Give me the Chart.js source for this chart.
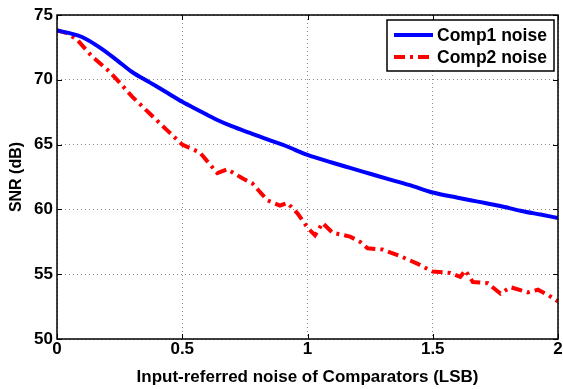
<!DOCTYPE html>
<html>
<head>
<meta charset="utf-8">
<script src="https://cdn.jsdelivr.net/npm/chart.js@4/dist/chart.umd.min.js"></script>
<style>
  html, body { margin: 0; padding: 0; background: #fff; }
  #wrap { width: 563px; height: 389px; position: relative; }
</style>
</head>
<body>
<div id="wrap"><canvas id="snrChart"></canvas></div>
<script>
// ---- DATA ----
const comp1X = [0, 0.05, 0.1, 0.17, 0.24, 0.3, 0.37, 0.44, 0.5, 0.57, 0.64, 0.7, 0.77, 0.84, 0.9, 0.95, 1.0, 1.1, 1.17, 1.25, 1.33, 1.42, 1.5, 1.6, 1.68, 1.77, 1.85, 1.93, 2.0];
const comp1Y = [73.8, 73.6, 73.3, 72.5, 71.5, 70.6, 69.8, 69.0, 68.3, 67.6, 66.9, 66.4, 65.9, 65.4, 65.0, 64.6, 64.2, 63.6, 63.2, 62.75, 62.3, 61.8, 61.3, 60.9, 60.6, 60.26, 59.9, 59.6, 59.34];

const comp2X = [0, 0.04, 0.08, 0.14, 0.2, 0.24, 0.3, 0.37, 0.44, 0.5, 0.57, 0.64, 0.68, 0.74, 0.78, 0.84, 0.89, 0.92, 0.96, 1.0, 1.03, 1.06, 1.1, 1.17, 1.21, 1.24, 1.3, 1.37, 1.44, 1.5, 1.57, 1.61, 1.63, 1.66, 1.72, 1.77, 1.81, 1.88, 1.92, 1.96, 2.0];
const comp2Y = [73.8, 73.6, 73.1, 71.8, 70.8, 70.0, 68.7, 67.4, 66.1, 65.0, 64.4, 62.8, 63.1, 62.4, 62.0, 60.7, 60.3, 60.5, 59.7, 58.6, 58.0, 58.95, 58.2, 57.9, 57.5, 57.0, 56.9, 56.4, 55.8, 55.2, 55.1, 54.8, 55.3, 54.4, 54.3, 53.5, 54.0, 53.6, 53.8, 53.4, 52.9];

const xTicks = [0, 0.5, 1, 1.5, 2];
const yTicks = [50, 55, 60, 65, 70, 75];
const seriesNames = ['Comp1 noise', 'Comp2 noise'];

const FONT = '"Liberation Sans", Arial, sans-serif';

function pts(xs, ys){
  return xs.map((x, i) => ({ x: x, y: ys[i] }));
}

// frame, inward ticks and legend drawn on top of the plot
const framePlugin = {
  id: 'frame',
  afterDatasetsDraw(chart){
    const { ctx, chartArea: a, scales } = chart;
    ctx.save();
    ctx.strokeStyle = '#000';
    ctx.lineWidth = 1.5;
    ctx.strokeRect(a.left, a.top, a.right - a.left, a.bottom - a.top);

    ctx.lineWidth = 1;
    ctx.beginPath();
    xTicks.forEach(v => {
      const px = Math.round(scales.x.getPixelForValue(v)) + 0.5;
      ctx.moveTo(px, a.bottom); ctx.lineTo(px, a.bottom - 5);
      ctx.moveTo(px, a.top); ctx.lineTo(px, a.top + 5);
    });
    yTicks.forEach(v => {
      const py = Math.round(scales.y.getPixelForValue(v)) + 0.5;
      ctx.moveTo(a.left, py); ctx.lineTo(a.left + 5, py);
      ctx.moveTo(a.right, py); ctx.lineTo(a.right - 5, py);
    });
    ctx.stroke();

    // legend box
    const bx = 387, by = 20, bw = 167, bh = 51;
    ctx.fillStyle = '#fff';
    ctx.fillRect(bx, by, bw, bh);
    ctx.lineWidth = 1.5;
    ctx.strokeRect(bx, by, bw, bh);
    ctx.font = 'bold 17.5px ' + FONT;
    ctx.textBaseline = 'middle';
    chart.data.datasets.forEach((ds, i) => {
      const ly = by + 15 + i * 22;
      ctx.beginPath();
      ctx.strokeStyle = ds.borderColor;
      ctx.lineWidth = 4;
      ctx.setLineDash(ds.borderDash || []);
      ctx.moveTo(bx + 7, ly);
      ctx.lineTo(bx + 46, ly);
      ctx.stroke();
      ctx.setLineDash([]);
      ctx.fillStyle = '#000';
      ctx.fillText(seriesNames[i], bx + 50, ly + 1);
    });
    ctx.restore();
  }
};

const chart = new Chart(document.getElementById('snrChart').getContext('2d'), {
  type: 'line',
  data: {
    datasets: [
      {
        label: seriesNames[0],
        data: pts(comp1X, comp1Y),
        borderColor: '#0000ff',
        borderWidth: 4,
        pointRadius: 0,
        cubicInterpolationMode: 'monotone'
      },
      {
        label: seriesNames[1],
        data: pts(comp2X, comp2Y),
        borderColor: '#ff0000',
        borderWidth: 4,
        borderDash: [11, 5, 3, 5],
        pointRadius: 0,
        tension: 0
      }
    ]
  },
  options: {
    responsive: true,
    maintainAspectRatio: false,
    animation: false,
    layout: { padding: { top: 15, right: 5, left: 0, bottom: 0 } },
    plugins: {
      legend: { display: false },
      tooltip: { enabled: false }
    },
    scales: {
      x: {
        type: 'linear',
        min: 0, max: 2,
        afterBuildTicks(s){ s.ticks = xTicks.map(v => ({ value: v })); },
        afterFit(s){ s.height = 50; },
        ticks: {
          color: '#000',
          font: { family: FONT, size: 17, weight: 'bold' },
          padding: 0,
          maxRotation: 0,
          callback: v => String(v)
        },
        grid: { color: '#888', lineWidth: 1, drawTicks: false, tickLength: 0 },
        border: { display: false, dash: [1, 3] },
        title: {
          display: true,
          text: 'Input-referred noise of Comparators (LSB)',
          color: '#000',
          font: { family: FONT, size: 17, weight: 'bold' },
          padding: { top: 0, bottom: 1 }
        }
      },
      y: {
        min: 50, max: 75,
        afterBuildTicks(s){ s.ticks = yTicks.map(v => ({ value: v })); },
        afterFit(s){ s.width = 57; },
        ticks: {
          color: '#000',
          font: { family: FONT, size: 17, weight: 'bold' },
          padding: 4
        },
        grid: { color: '#888', lineWidth: 1, drawTicks: false, tickLength: 0 },
        border: { display: false, dash: [1, 3] },
        title: {
          display: true,
          text: 'SNR (dB)',
          color: '#000',
          font: { family: FONT, size: 16, weight: 'bold' },
          padding: { top: 7, bottom: 0 }
        }
      }
    }
  },
  plugins: [framePlugin]
});
</script>
</body>
</html>
